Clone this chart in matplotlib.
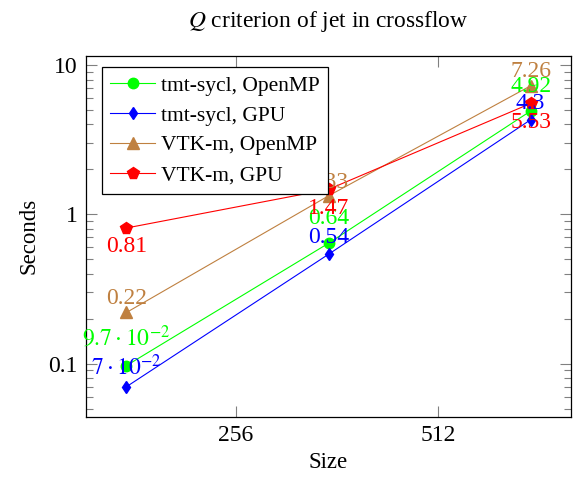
import matplotlib
matplotlib.use("Agg")
import matplotlib.pyplot as plt
from matplotlib.ticker import FixedLocator, NullLocator, LogLocator, NullFormatter

plt.rcParams['font.family'] = ['Liberation Serif', 'DejaVu Serif']
plt.rcParams['mathtext.fontset'] = 'stix'
plt.rcParams['font.size'] = 16.5

# data
sizes = [176, 352, 704]
tmt_openmp = [0.097, 0.64, 4.92]
tmt_gpu = [0.07, 0.54, 4.3]
vtkm_openmp = [0.22, 1.33, 7.26]
vtkm_gpu = [0.81, 1.47, 5.53]

# name, values, colour, marker, marker size, label offset (pt)
series = [
    ("tmt-sycl, OpenMP", tmt_openmp, "#00ff00", "o", 7.5, 14),
    ("tmt-sycl, GPU", tmt_gpu, "#0000ff", "d", 6.5, 8),
    ("VTK-m, OpenMP", vtkm_openmp, "#bf8040", "^", 8, 6),
    ("VTK-m, GPU", vtkm_gpu, "#ff0000", "p", 8.5, -6),
]


def fmt(v):
    # pgfplots style number formatting
    if v >= 0.1:
        return f"{v:g}"
    exp = -2
    while v / 10 ** exp >= 10:
        exp += 1
    m = round(v / 10 ** exp, 2)
    return r"$%g\cdot10^{%d}$" % (m, exp)


fig = plt.figure(figsize=(5.74, 4.82), dpi=100)
ax = fig.add_axes([0.1498, 0.1355, 0.845, 0.7489])

for name, vals, col, mk, ms, off in series:
    ax.plot(sizes, vals, color=col, marker=mk, markersize=ms, lw=0.8,
            label=name)
    for x, y in zip(sizes, vals):
        ax.annotate(fmt(y), (x, y), xytext=(0, off), textcoords="offset points",
                    ha="center", va="baseline" if off > 0 else "top",
                    color=col, fontsize=17, zorder=3)

ax.set_xscale("log", base=2)
ax.set_yscale("log")
ax.set_xlim(153.2, 808.7)
ax.set_ylim(0.0441, 11.55)

ax.xaxis.set_major_locator(FixedLocator([256, 512]))
ax.set_xticklabels(["256", "512"])
ax.xaxis.set_minor_locator(NullLocator())
ax.yaxis.set_major_locator(FixedLocator([0.1, 1, 10]))
ax.set_yticklabels(["0.1", "1", "10"])
ax.yaxis.set_minor_locator(LogLocator(base=10, subs=range(2, 10)))
ax.yaxis.set_minor_formatter(NullFormatter())

ax.tick_params(which="both", direction="in", top=True, right=True, color="0.5",
               labelsize=17)
ax.tick_params(which="major", length=8, width=0.8, pad=6)
ax.tick_params(which="minor", length=5, width=0.8)
for s in ax.spines.values():
    s.set_linewidth(0.9)

ax.set_title(r"$Q$ criterion of jet in crossflow", fontsize=16.9, pad=21)
ax.set_xlabel("Size", labelpad=4)
ax.set_ylabel("Seconds", labelpad=6)

leg = ax.legend(loc="upper left", bbox_to_anchor=(0.032, 0.968), fancybox=False,
                edgecolor="black", framealpha=1, fontsize=15.5,
                handlelength=2.1, borderpad=0.4, labelspacing=0.45,
                handletextpad=0.25, borderaxespad=0)
leg.get_frame().set_linewidth(0.9)

fig.savefig("out.png", dpi=100)
